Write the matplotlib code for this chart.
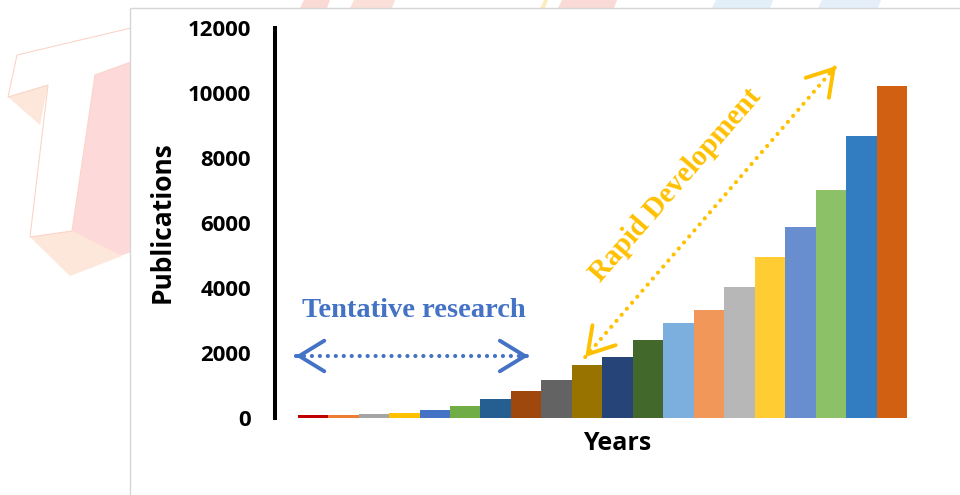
import numpy as np
import matplotlib.pyplot as plt
from matplotlib.patches import Polygon, Rectangle

# publications per year, oldest year first
years = np.arange(20)
publications = [100, 100, 110, 155, 235, 360, 575, 830, 1160, 1620,
                1877, 2410, 2913, 3333, 4040, 4954, 5877, 7006, 8677, 10215]
bar_colors = ["#C00000", "#ED7D31", "#A5A5A5", "#FFC000", "#4472C4",
              "#70AD47", "#255E91", "#9E480E", "#636363", "#997300",
              "#264478", "#43682B", "#7CAFDD", "#F1975A", "#B7B7B7",
              "#FFCD33", "#698ED0", "#8CC168", "#327DC2", "#D26012"]
y_ticks = [0, 2000, 4000, 6000, 8000, 10000, 12000]

sans = "Open Sans"
serif = "Liberation Serif"

fig = plt.figure(figsize=(9.6, 4.95), dpi=100)

# background layer in pixel units: faded logo behind the white panel
bg = fig.add_axes([0, 0, 1, 1], zorder=0)
bg.set_xlim(0, 960)
bg.set_ylim(495, 0)
bg.axis("off")

peach = "#fde6da"
pink = "#fdd9da"
bg.add_patch(Polygon([(8, 97), (40, 125), (48, 85)], color=peach, lw=0))
bg.add_patch(Polygon([(95, 75), (131, 62), (131, 252), (120, 256), (72, 231)],
                     color=pink, lw=0))
bg.add_patch(Polygon([(30, 237), (70, 276), (122, 256), (72, 231)],
                     color=peach, lw=0))
bg.add_patch(Polygon([(17, 55), (131, 28), (131, 62), (95, 75), (72, 231),
                      (30, 237), (48, 85), (8, 97)],
                     facecolor="white", edgecolor="#fad5c8", lw=0.8))

# coloured scraps along the top edge
for x0, x1, c in [(300, 330, "#fadad5"), (350, 395, "#fbe0da"),
                  (540, 548, "#fcedc0"), (558, 617, "#fadad6"),
                  (712, 773, "#e2eef8"), (818, 881, "#e4eff9")]:
    bg.add_patch(Polygon([(x0 + 4, 0), (x1, 0), (x1 - 3, 8), (x0, 8)],
                         color=c, lw=0))

bg.add_patch(Rectangle((130, 8), 840, 500, facecolor="white",
                       edgecolor="#d6d6d6", lw=1.0))

bg.text(617, 444, "Years", ha="center", va="center", fontsize=18,
        fontweight="bold", family=sans)
bg.text(162, 222, "Publications", ha="center", va="center", rotation=90,
        fontsize=19, fontweight="bold", family=sans)

# main chart
ax = fig.add_axes([274.7 / 960, 77 / 495, (930 - 274.7) / 960, 390 / 495],
                  zorder=1)
ax.patch.set_alpha(0)
ax.bar(years, publications, width=1.0, color=bar_colors, linewidth=0)

ax.set_xlim(-1.254, 20.254)
ax.set_ylim(0, 12000)
ax.set_yticks(y_ticks)
ax.set_yticklabels([str(t) for t in y_ticks], fontsize=16,
                   fontweight="bold", family=sans)
ax.tick_params(axis="y", length=0, pad=17)
ax.set_xticks([])
for side in ["top", "right", "bottom"]:
    ax.spines[side].set_visible(False)
ax.spines["left"].set_linewidth(2.9)
ax.spines["left"].set_color("black")


def dotted_double_arrow(p0, p1, color):
    ax.plot([p0[0], p1[0]], [p0[1], p1[1]], color=color, lw=3.0,
            linestyle=(0, (0.01, 1.9)), dash_capstyle="round",
            solid_capstyle="round", clip_on=False)
    for tip, back in [(p0, p1), (p1, p0)]:
        d = np.array(back) - np.array(tip)
        ax.annotate("", xy=tip, xytext=np.array(tip) + d * 0.02,
                    arrowprops=dict(arrowstyle="->,head_length=0.9,head_width=0.55",
                                    color=color, lw=2.8, mutation_scale=20,
                                    shrinkA=0, shrinkB=0),
                    annotation_clip=False)


blue = "#4472C4"
gold = "#FFC000"

dotted_double_arrow((-0.57, 1908), (7.08, 1908), blue)
ax.text(3.30, 3323, "Tentative research", ha="center", va="center",
        color=blue, fontsize=20.5, fontweight="bold", family=serif)

dotted_double_arrow((8.94, 1877), (17.17, 10830), gold)
ax.text(11.89, 7169, "Rapid Development", ha="center", va="center",
        color=gold, fontsize=21, fontweight="bold", family=serif,
        rotation=49, rotation_mode="anchor")

fig.savefig("out.png", dpi=100)
